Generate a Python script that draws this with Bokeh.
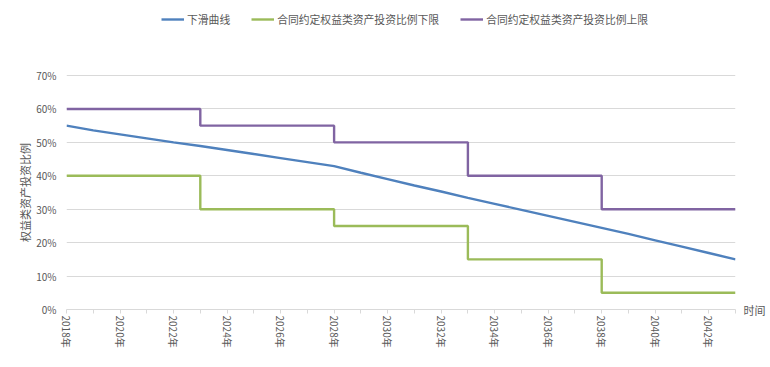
import math
from bokeh.plotting import figure
from bokeh.models import (Range1d, FixedTicker, PrintfTickFormatter, Legend, LegendItem,
                          LinearAxis)
from bokeh.embed import file_html
from bokeh.resources import INLINE

# ---- data ----
years = list(range(2018, 2044))
glide = [55.0, 53.6, 52.4, 51.2, 50.0, 48.9, 47.7, 46.5, 45.3, 44.1,
         42.9, 40.9, 39.0, 37.1, 35.3, 33.4, 31.6, 29.8, 28.0, 26.2,
         24.4, 22.6, 20.7, 18.8, 16.9, 15.0]
lower = [40, 40, 40, 40, 40, 30, 30, 30, 30, 30,
         25, 25, 25, 25, 25, 15, 15, 15, 15, 15,
         5, 5, 5, 5, 5, 5]
upper = [60, 60, 60, 60, 60, 55, 55, 55, 55, 55,
         50, 50, 50, 50, 50, 40, 40, 40, 40, 40,
         30, 30, 30, 30, 30, 30]
y_ticks = [0, 10, 20, 30, 40, 50, 60, 70]
names = ["下滑曲线", "合同约定权益类资产投资比例下限", "合同约定权益类资产投资比例上限"]
colors = ["#4F81BD", "#9BBB59", "#8064A2"]
x_title = "时间"
y_title = "权益类资产投资比例"

FONT = "Noto Sans CJK SC"
GRAY = "#595959"

# layout (pixels)
W, H = 768, 360
LEFT, RIGHT, TOP70, BOTTOM = 66, 737, 75, 309
px_per_unit = (BOTTOM - TOP70) / 70.0
y_top = 70 + TOP70 / px_per_unit   # frame reaches the top edge so the legend fits inside

p = figure(width=W, height=H, output_backend="svg", toolbar_location=None,
           x_range=Range1d(2018, 2043), y_range=Range1d(0, y_top),
           min_border_left=LEFT, min_border_right=W - RIGHT, min_border_top=0,
           min_border_bottom=H - BOTTOM)
p.outline_line_color = None
p.background_fill_color = "white"
p.border_fill_color = "white"

r1 = p.line(years, glide, line_color=colors[0], line_width=2.4)
r2 = p.step(years, lower, mode="after", line_color=colors[1], line_width=2.4)
r3 = p.step(years, upper, mode="after", line_color=colors[2], line_width=2.4)

# y axis
p.yaxis.ticker = FixedTicker(ticks=y_ticks)
p.yaxis.formatter = PrintfTickFormatter(format="%d%%")
p.yaxis.axis_line_color = None
p.yaxis.major_tick_line_color = None
p.yaxis.major_tick_out = 0
p.yaxis.major_tick_in = 0
p.yaxis.minor_tick_line_color = None
p.yaxis.minor_tick_out = 0
p.yaxis.major_label_standoff = 10
p.yaxis.major_label_text_font = FONT
p.yaxis.major_label_text_font_size = "10px"
p.yaxis.major_label_text_color = GRAY
p.ygrid.ticker = FixedTicker(ticks=y_ticks)
p.ygrid.grid_line_color = "#D9D9D9"
p.ygrid.grid_line_width = 1

# y-axis title, centred on the 0-70% span, as a one-tick left axis
lax = LinearAxis(ticker=FixedTicker(ticks=[35]), major_label_overrides={35: y_title},
                 major_label_orientation="parallel",
                 axis_line_color=None, major_tick_line_color=None, major_tick_out=0,
                 major_tick_in=0, minor_tick_line_color=None, minor_tick_out=0,
                 major_label_standoff=1,
                 major_label_text_font=FONT, major_label_text_font_size="11px",
                 major_label_text_color=GRAY)
p.add_layout(lax, "left")

# x axis
p.xaxis.ticker = FixedTicker(ticks=years)
p.xaxis.major_label_overrides = {y: (f"{y}年" if (y - 2018) % 2 == 0 else "") for y in years}
p.xaxis.major_label_orientation = -math.pi / 2
p.xaxis.axis_line_color = "#D9D9D9"
p.xaxis.major_tick_line_color = "#D9D9D9"
p.xaxis.major_tick_out = 4
p.xaxis.major_tick_in = 0
p.xaxis.minor_tick_line_color = None
p.xaxis.major_label_standoff = 2
p.xaxis.major_label_text_font = FONT
p.xaxis.major_label_text_font_size = "10px"
p.xaxis.major_label_text_color = GRAY
p.xgrid.grid_line_color = None

# x-axis title at the right end, drawn as a one-tick right axis
rax = LinearAxis(ticker=FixedTicker(ticks=[0]), major_label_overrides={0: x_title},
                 axis_line_color=None, major_tick_line_color=None, major_tick_out=0,
                 major_tick_in=0, minor_tick_line_color=None, minor_tick_out=0,
                 major_label_standoff=8,
                 major_label_text_font=FONT, major_label_text_font_size="11px",
                 major_label_text_color=GRAY)
p.add_layout(rax, "right")

legend = Legend(items=[LegendItem(label=names[0], renderers=[r1]),
                       LegendItem(label=names[1], renderers=[r2]),
                       LegendItem(label=names[2], renderers=[r3])],
                orientation="horizontal", location=(161 - LEFT, BOTTOM - 27),
                padding=0, margin=0, spacing=21, glyph_width=23, glyph_height=14,
                label_standoff=3, border_line_color=None,
                background_fill_alpha=0,
                label_text_font=FONT, label_text_font_size="10.8px",
                label_text_color=GRAY)
p.add_layout(legend, "center")

open("out.html", "w").write(file_html(p, INLINE))
